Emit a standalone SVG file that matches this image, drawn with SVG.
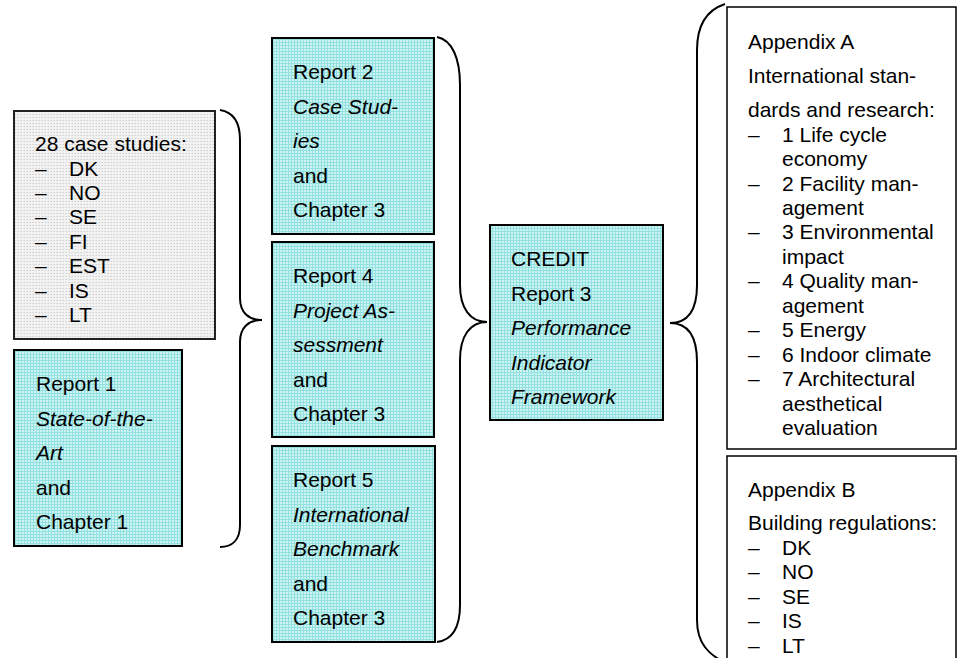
<svg xmlns="http://www.w3.org/2000/svg" width="958" height="658" viewBox="0 0 958 658">
<defs>
<pattern id="teal" width="3" height="3" patternUnits="userSpaceOnUse">
<rect width="3" height="3" fill="#cdf3f3"/>
<rect width="3" height="1" fill="#93e0e0"/>
<rect width="1" height="3" fill="#93e0e0"/>
</pattern>
<pattern id="gray" width="3" height="3" patternUnits="userSpaceOnUse">
<rect width="3" height="3" fill="#f2f2f2"/>
<rect width="1" height="1" fill="#cfcfcf"/>
<rect x="2" y="0" width="1" height="1" fill="#e0e0e0"/>
</pattern>
<style>
text{font-family:"Liberation Sans",Arial,sans-serif;font-size:21px;fill:#000}
.i{font-style:italic}
.rep{fill:url(#teal);stroke:#000;stroke-width:2}
.cs{fill:url(#gray);stroke:#222;stroke-width:2}
.app{fill:#fff;stroke:#000;stroke-width:1.5}
.brace{fill:none;stroke:#000;stroke-width:2}
</style>
</defs>
<rect width="958" height="658" fill="#fff"/>

<g id="connectors">
<path class="brace" d="M220,110 C233,112 240,122 240,140 L240,298 C240,312 248,320 262,320 C248,320 240,328 240,342 L240,525 C240,540 232,547 220,547"/>
<path class="brace" d="M437,37 C452,40 460,58 460,85 L460,285 C460,308 470,322 487,322 C470,322 460,336 460,360 L460,605 C460,628 452,640 437,642"/>
<path class="brace" d="M725,4 C707,10 697,25 697,50 L697,285 C697,310 688,323 670,323 C688,323 697,336 697,362 L697,620 C697,642 707,655 730,665"/>
</g>

<g id="case-studies">
<rect class="cs" x="14" y="111" width="201" height="228"/>
<text x="35" y="151">28 case studies:</text>
<text x="35" y="176">–</text><text x="69" y="176">DK</text>
<text x="35" y="200">–</text><text x="69" y="200">NO</text>
<text x="35" y="224">–</text><text x="69" y="224">SE</text>
<text x="35" y="249">–</text><text x="69" y="249">FI</text>
<text x="35" y="273">–</text><text x="69" y="273">EST</text>
<text x="35" y="298">–</text><text x="69" y="298">IS</text>
<text x="35" y="322">–</text><text x="69" y="322">LT</text>
</g>

<g id="report1">
<rect class="rep" x="14" y="350" width="168" height="196"/>
<text x="36" y="391">Report 1</text>
<text x="36" y="425.5" class="i">State-of-the-</text>
<text x="36" y="460" class="i">Art</text>
<text x="36" y="494.5">and</text>
<text x="36" y="529">Chapter 1</text>
</g>

<g id="report2">
<rect class="rep" x="272" y="38" width="162" height="196"/>
<text x="293" y="79">Report 2</text>
<text x="293" y="113.5" class="i">Case Stud-</text>
<text x="293" y="148" class="i">ies</text>
<text x="293" y="182.5">and</text>
<text x="293" y="217">Chapter 3</text>
</g>

<g id="report4">
<rect class="rep" x="272" y="242" width="162" height="195"/>
<text x="293" y="283">Report 4</text>
<text x="293" y="317.5" class="i">Project As-</text>
<text x="293" y="352" class="i">sessment</text>
<text x="293" y="386.5">and</text>
<text x="293" y="421">Chapter 3</text>
</g>

<g id="report5">
<rect class="rep" x="272" y="446" width="163" height="196"/>
<text x="293" y="487">Report 5</text>
<text x="293" y="521.5" class="i">International</text>
<text x="293" y="556" class="i">Benchmark</text>
<text x="293" y="590.5">and</text>
<text x="293" y="625">Chapter 3</text>
</g>

<g id="credit">
<rect class="rep" x="490" y="225" width="173" height="195"/>
<text x="511" y="266">CREDIT</text>
<text x="511" y="300.5">Report 3</text>
<text x="511" y="335" class="i">Performance</text>
<text x="511" y="369.5" class="i">Indicator</text>
<text x="511" y="404" class="i">Framework</text>
</g>

<g id="appendix-a">
<rect class="app" x="727" y="7" width="229" height="442"/>
<text x="748" y="49">Appendix A</text>
<text x="748" y="83">International stan-</text>
<text x="748" y="117">dards and research:</text>
<text x="748" y="141.5">–</text><text x="782" y="141.5">1 Life cycle</text>
<text x="782" y="166">economy</text>
<text x="748" y="190.5">–</text><text x="782" y="190.5">2 Facility man-</text>
<text x="782" y="215">agement</text>
<text x="748" y="239">–</text><text x="782" y="239">3 Environmental</text>
<text x="782" y="263.5">impact</text>
<text x="748" y="288">–</text><text x="782" y="288">4 Quality man-</text>
<text x="782" y="312.5">agement</text>
<text x="748" y="337">–</text><text x="782" y="337">5 Energy</text>
<text x="748" y="361.5">–</text><text x="782" y="361.5">6 Indoor climate</text>
<text x="748" y="386">–</text><text x="782" y="386">7 Architectural</text>
<text x="782" y="410.5">aesthetical</text>
<text x="782" y="435">evaluation</text>
</g>

<g id="appendix-b">
<rect class="app" x="727" y="456" width="229" height="220"/>
<text x="748" y="497">Appendix B</text>
<text x="748" y="530">Building regulations:</text>
<text x="748" y="554.5">–</text><text x="782" y="554.5">DK</text>
<text x="748" y="579">–</text><text x="782" y="579">NO</text>
<text x="748" y="603.5">–</text><text x="782" y="603.5">SE</text>
<text x="748" y="628">–</text><text x="782" y="628">IS</text>
<text x="748" y="652.5">–</text><text x="782" y="652.5">LT</text>
</g>
</svg>
